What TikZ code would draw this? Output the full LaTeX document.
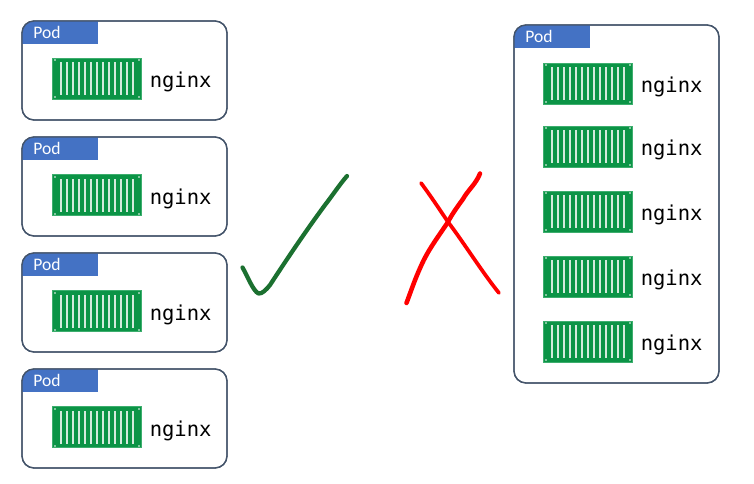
\documentclass[tikz,border=0pt]{standalone}
\usepackage{fontspec}
\setmainfont{Carlito}
\newfontfamily\monof{DejaVu Sans Mono}
\definecolor{podedge}{HTML}{44546A}
\definecolor{podhead}{HTML}{4472C4}
\definecolor{boxgreen}{HTML}{0B9446}
\definecolor{boxedge}{HTML}{3DAE6E}
\definecolor{stripe}{HTML}{D4EADC}
\definecolor{tick}{HTML}{1B7030}
\tikzset{
  x=0.75pt,y=-0.75pt,
  podbox/.style={draw=podedge,line width=1pt,rounded corners=9pt,fill=white},
  podhead/.style={fill=podhead},
  podtext/.style={text=white,font=\fontsize{13.2pt}{14pt}\selectfont,inner sep=0pt,anchor=base west},
  nginxtext/.style={font=\monof\fontsize{15.4pt}{16pt}\selectfont,inner sep=0pt,anchor=base west,text=black},
  pen/.style={line cap=round,line join=round}
}
% #1 name, #2 x left, #3 y top
\newcommand{\shipbox}[3]{%
  \begin{scope}[shift={(#2,#3)}]
    \fill[boxgreen,draw=boxedge,line width=0.6pt] (0,0) rectangle (88.5,41);
    \foreach \i in {0,...,12}{\fill[stripe] (7.2+6*\i,4) rectangle (9+6*\i,37);}
    \foreach \p/\q in {1/1,85.5/1,1/38,85.5/38}{\fill[stripe,opacity=.6] (\p,\q) rectangle (\p+2,\q+2);}
    \node[nginxtext] (#1) at (97,29.5) {nginx};
  \end{scope}}
\newcommand{\podframe}[4]{%
  \draw[podbox] (#2,#3) rectangle (#2+205,#4);
  \begin{scope}
    \clip[rounded corners=9pt] (#2,#3) rectangle (#2+205,#4);
    \fill[podhead] (#2,#3) rectangle (#2+76,#3+23);
  \end{scope}
  \draw[draw=podedge,line width=1pt,rounded corners=9pt] (#2,#3) rectangle (#2+205,#4);
  \node[podtext] (#1) at (#2+11,#3+17.5) {Pod};}
\begin{document}
\begin{tikzpicture}
\useasboundingbox (0,0) rectangle (754,483);
\podframe{pa}{22}{21}{120}\shipbox{na}{52.5}{58}
\podframe{pb}{22}{137}{236}\shipbox{nb}{52.5}{174.5}
\podframe{pc}{22}{253}{352}\shipbox{nc}{52.5}{290.5}
\podframe{pd}{22}{369}{468}\shipbox{nd}{52.5}{406.5}
\podframe{pe}{514}{25}{383}
\shipbox{ne}{543.5}{63}
\shipbox{nf}{543.5}{126}
\shipbox{ng}{543.5}{191}
\shipbox{nh}{543.5}{256}
\shipbox{ni}{543.5}{321}
\draw[pen,tick,line width=3.2pt]
  (242.5,267.5) .. controls (247,275) and (253,291) .. (258.5,293.5)
  .. controls (262,294) and (266,290) .. (270,285)
  .. controls (285,262) and (305,232) .. (325,205)
  .. controls (332,196) and (340,184) .. (347,176);
\draw[pen,red,line width=2.8pt]
  (421,183) .. controls (430,195) and (440,210) .. (448,222)
  .. controls (462,240) and (482,272) .. (499,293);
\draw[pen,red,line width=3.4pt]
  (480,173.5) .. controls (476,184) and (468,190) .. (463,199)
  .. controls (458,206) and (452,214) .. (448,222)
  .. controls (438,237) and (428,250) .. (421,266)
  .. controls (415,279) and (411,291) .. (406.5,303);
\end{tikzpicture}
\end{document}
